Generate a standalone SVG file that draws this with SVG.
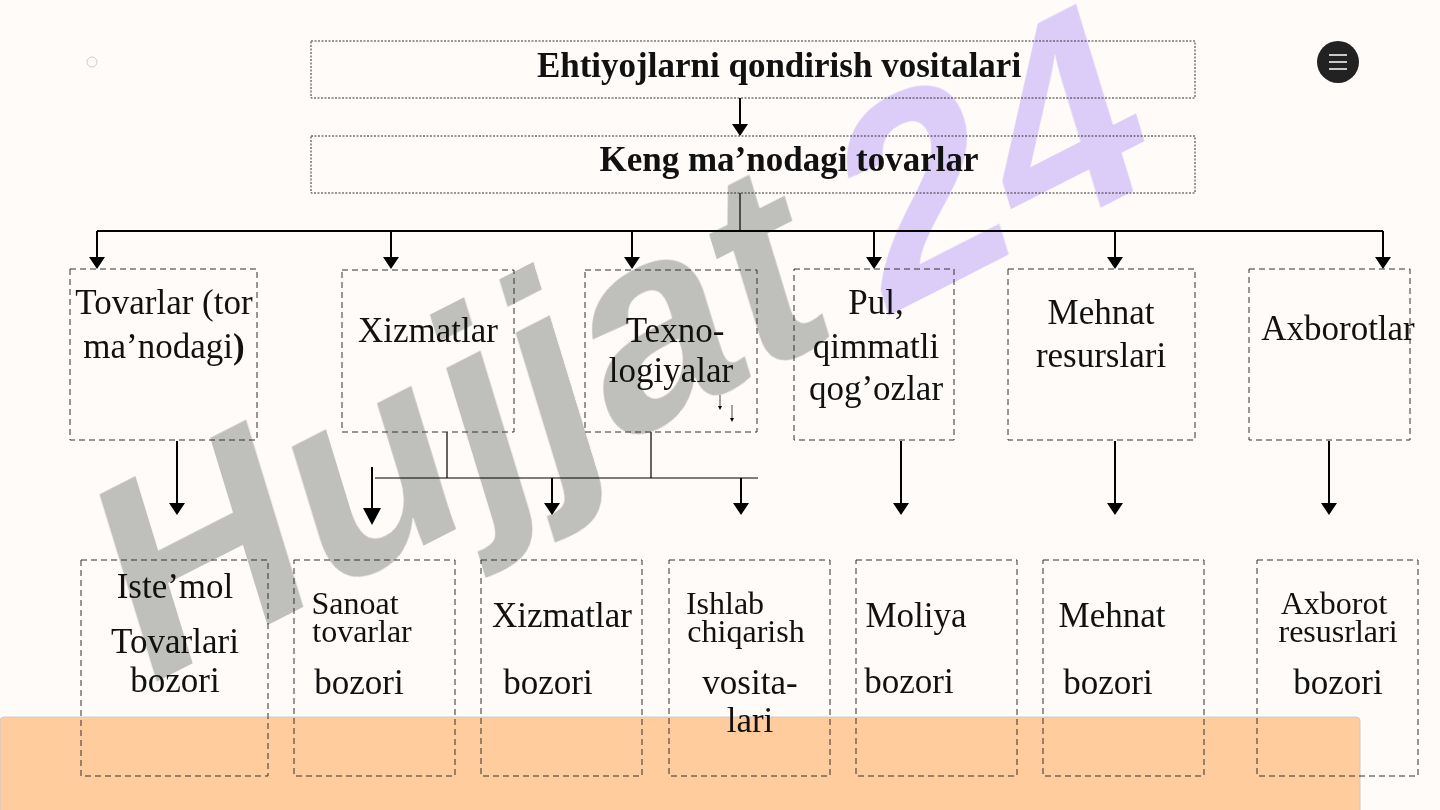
<svg xmlns="http://www.w3.org/2000/svg" width="1440" height="810" viewBox="0 0 1440 810">
<style>
.box{fill:none;stroke:#333;stroke-width:1;stroke-dasharray:6,4}
.tb{fill:none;stroke:#333;stroke-width:1;stroke-dasharray:2,1.5}
.t{font-family:"Liberation Serif",serif;font-size:35px;fill:#111;text-anchor:middle}
.s{font-size:32px}
.b{font-weight:bold}
.ln{stroke:#000;stroke-width:1.2;fill:none}
.ar{stroke:#000;stroke-width:2;fill:none}
.ah{fill:#000}
</style>
<rect width="1440" height="810" fill="#fffbf8"/>
<g opacity="0.9">
<text x="0" y="0" transform="translate(140,690) rotate(-27) skewX(-10)" font-family="Liberation Sans,sans-serif" font-weight="bold" font-size="280" fill="#b8b8b4">Hujjat</text>
<text x="0" y="0" transform="translate(880,320) rotate(-27) skewX(-10)" font-family="Liberation Sans,sans-serif" font-weight="bold" font-size="280" fill="#d8c8f8">24</text>
</g>
<rect x="0" y="717" width="1360" height="100" rx="4" fill="#ffcc9e" stroke="#ccc"/>
<circle cx="92" cy="62" r="5" fill="none" stroke="#ccc"/>
<g id="menu"><circle cx="1338" cy="62" r="21" fill="#222"/><path d="M1329,55h18M1329,62h18M1329,69h18" stroke="#fff" stroke-width="1.5"/></g>
<g id="connectors">
<path class="ar" d="M740,98V128M97,231H1383M97,231V260M391,231V260M632,231V260M874,231V260M1115,231V260M1383,231V260"/>
<path class="ah" d="M732,124h16l-8,12z M89,257h16l-8,12z M383,257h16l-8,12z M624,257h16l-8,12z M866,257h16l-8,12z M1107,257h16l-8,12z M1375,257h16l-8,12z"/>
<path class="ln" d="M740,193V231 M447,432V478 M651,432V478 M375,478H758"/>
<path class="ar" d="M177,441V505 M372,467V510 M552,478V505 M741,478V505 M901,441V505 M1115,441V505 M1329,441V505"/>
<path class="ah" d="M169,503h16l-8,12z M363,508h18l-9,17z M544,503h16l-8,12z M733,503h16l-8,12z M893,503h16l-8,12z M1107,503h16l-8,12z M1321,503h16l-8,12z"/>
<path d="M720,395V407M732,405V419" stroke="#000" stroke-width="0.7"/>
<path class="ah" d="M718,406h4l-2,4z M730,418h4l-2,4z"/>
</g>
<g id="n0"><rect class="tb" x="311" y="41" width="884" height="57"/><text class="t b" x="779" y="77">Ehtiyojlarni qondirish vositalari</text></g>
<g id="n1"><rect class="tb" x="311" y="136" width="884" height="57"/><text class="t b" x="789" y="171">Keng ma’nodagi tovarlar</text></g>
<g id="n2"><rect class="box" x="70" y="269" width="187" height="171"/><text class="t" x="164" y="314">Tovarlar (tor</text><text class="t" x="164" y="358">ma’nodagi<tspan font-weight="bold">)</tspan></text></g>
<g id="n3"><rect class="box" x="342" y="270" width="172" height="162"/><text class="t" x="428" y="342">Xizmatlar</text></g>
<g id="n4"><rect class="box" x="585" y="270" width="172" height="162"/><text class="t" x="675" y="342">Texno-</text><text class="t" x="671" y="382">logiyalar</text></g>
<g id="n5"><rect class="box" x="794" y="269" width="160" height="171"/><text class="t" x="876" y="314">Pul,</text><text class="t" x="876" y="358">qimmatli</text><text class="t" x="876" y="400">qog’ozlar</text></g>
<g id="n6"><rect class="box" x="1008" y="269" width="187" height="171"/><text class="t" x="1101" y="324">Mehnat</text><text class="t" x="1101" y="367">resurslari</text></g>
<g id="n7"><rect class="box" x="1249" y="269" width="161" height="171"/><text class="t" x="1338" y="340" font-size="30">Axborotlar</text></g>
<g id="n8"><rect class="box" x="81" y="560" width="187" height="216"/><text class="t" x="175" y="598">Iste’mol</text><text class="t" x="175" y="653">Tovarlari</text><text class="t" x="175" y="692">bozori</text></g>
<g id="n9"><rect class="box" x="294" y="560" width="161" height="216"/><text class="t s" x="355" y="614">Sanoat</text><text class="t s" x="362" y="642">tovarlar</text><text class="t" x="359" y="694">bozori</text></g>
<g id="n10"><rect class="box" x="481" y="560" width="161" height="216"/><text class="t" x="562" y="627">Xizmatlar</text><text class="t" x="548" y="694">bozori</text></g>
<g id="n11"><rect class="box" x="669" y="560" width="161" height="216"/><text class="t s" x="725" y="614">Ishlab</text><text class="t s" x="746" y="642">chiqarish</text><text class="t" x="750" y="694">vosita-</text><text class="t" x="750" y="732">lari</text></g>
<g id="n12"><rect class="box" x="856" y="560" width="161" height="216"/><text class="t" x="916" y="627">Moliya</text><text class="t" x="909" y="693">bozori</text></g>
<g id="n13"><rect class="box" x="1043" y="560" width="161" height="216"/><text class="t" x="1112" y="627">Mehnat</text><text class="t" x="1108" y="694">bozori</text></g>
<g id="n14"><rect class="box" x="1257" y="560" width="161" height="216"/><text class="t s" x="1334" y="614">Axborot</text><text class="t s" x="1338" y="642">resusrlari</text><text class="t" x="1338" y="694">bozori</text></g>
</svg>
